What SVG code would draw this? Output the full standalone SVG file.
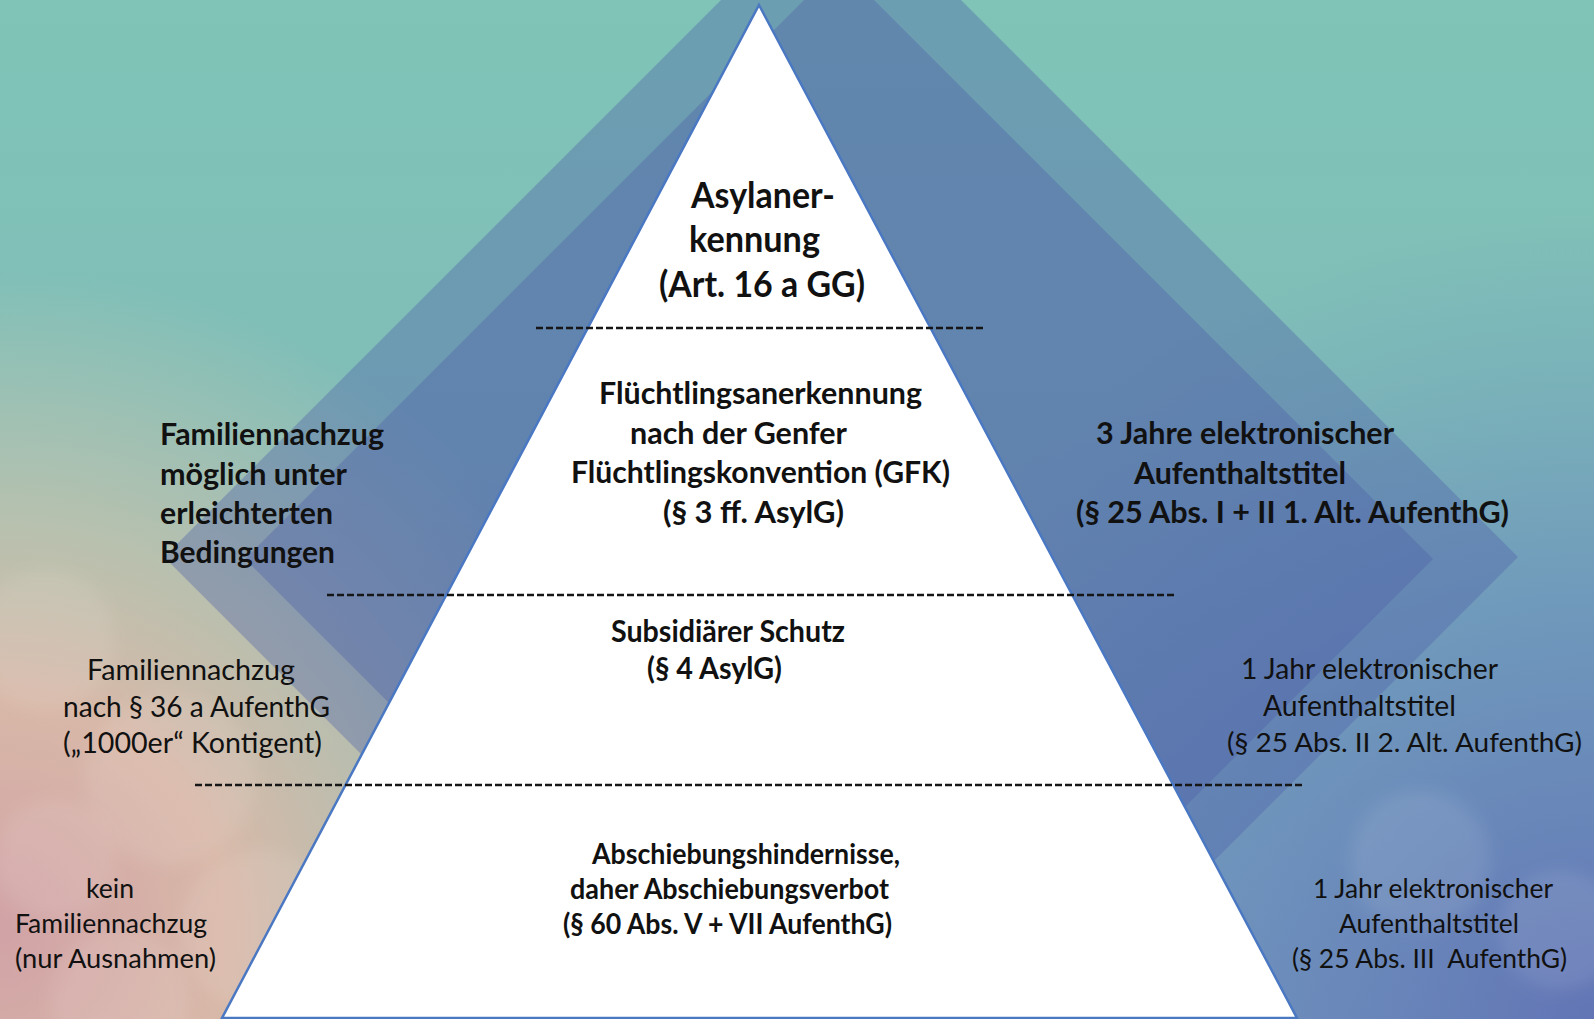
<svg xmlns="http://www.w3.org/2000/svg" width="1594" height="1019" viewBox="0 0 1594 1019">
  <defs>
    <linearGradient id="bgBase" x1="0" y1="0" x2="0" y2="1">
      <stop offset="0" stop-color="#7fc4b7"/>
      <stop offset="0.4" stop-color="#80bdb8"/>
      <stop offset="1" stop-color="#7da0bd"/>
    </linearGradient>
    <radialGradient id="warm" gradientUnits="userSpaceOnUse" cx="0" cy="930" r="660">
      <stop offset="0" stop-color="#d1a2a6" stop-opacity="1"/>
      <stop offset="0.35" stop-color="#d8b8a8" stop-opacity="1"/>
      <stop offset="0.62" stop-color="#cfc5aa" stop-opacity="0.7"/>
      <stop offset="1" stop-color="#cfc9ad" stop-opacity="0"/>
    </radialGradient>
    <radialGradient id="cool" gradientUnits="userSpaceOnUse" cx="1594" cy="1019" r="800">
      <stop offset="0" stop-color="#6274b5" stop-opacity="1"/>
      <stop offset="0.5" stop-color="#6689bc" stop-opacity="0.65"/>
      <stop offset="1" stop-color="#6a95bd" stop-opacity="0"/>
    </radialGradient>
    <filter id="blur" x="-50%" y="-50%" width="200%" height="200%">
      <feGaussianBlur stdDeviation="8"/>
    </filter>
    <style>
      .band { fill: #5060a8; fill-opacity: 0.38; }
      .bokeh { fill: #ffffff; fill-opacity: 0.09; filter: url(#blur); }
      .pyr { fill: #ffffff; stroke: #4a78c2; stroke-width: 2.5; stroke-linejoin: miter; }
      .dash { stroke: #161616; stroke-width: 2.4; stroke-dasharray: 7 3; fill: none; }
      text { font-family: Lato, "Open Sans", "Liberation Sans", sans-serif; fill: #111111; }
      .b { font-weight: 700; }
      .r { font-weight: 400; }
      .t1 { font-size: 35.5px; }
      .t2 { font-size: 31px; }
      .t3 { font-size: 29.5px; }
      .t3s { font-size: 26.5px; }
      .t4 { font-size: 28px; }
      .t5 { font-size: 27.5px; }
    </style>
  </defs>

  <g id="background">
    <rect x="0" y="0" width="1594" height="1019" fill="url(#bgBase)"/>
    <rect x="0" y="0" width="1594" height="1019" fill="url(#warm)"/>
    <rect x="0" y="0" width="1594" height="1019" fill="url(#cool)"/>
    <circle class="bokeh" cx="45" cy="640" r="70"/>
    <circle class="bokeh" cx="170" cy="780" r="85"/>
    <circle class="bokeh" cx="55" cy="860" r="60"/>
    <circle class="bokeh" cx="260" cy="930" r="80"/>
    <circle class="bokeh" cx="120" cy="1000" r="70"/>
    <circle class="bokeh" cx="1420" cy="860" r="70"/>
    <circle class="bokeh" cx="1560" cy="930" r="60"/>
  </g>

  <g id="bands">
    <polygon id="band-outer" class="band" points="841,-120 1518,557 841,1234 164,557"/>
    <polygon id="band-inner" class="band" points="839,-35 1433,559 839,1153 245,559"/>
  </g>

  <g id="pyramid">
    <polygon class="pyr" points="759,5 1297,1018 222,1018"/>
  </g>

  <g id="connectors">
    <line class="dash" x1="536" y1="328" x2="984" y2="328"/>
    <line class="dash" x1="327" y1="595" x2="1174" y2="595"/>
    <line class="dash" x1="195" y1="785" x2="1303" y2="785"/>
  </g>

  <g id="node-asyl">
    <text class="b t1" x="691" y="208" textLength="144" lengthAdjust="spacingAndGlyphs">Asylaner-</text>
    <text class="b t1" x="689" y="252" textLength="131" lengthAdjust="spacingAndGlyphs">kennung</text>
    <text class="b t1" x="659" y="297" textLength="206" lengthAdjust="spacingAndGlyphs">(Art. 16 a GG)</text>
  </g>

  <g id="node-gfk">
    <text class="b t2" x="599" y="404" textLength="323" lengthAdjust="spacingAndGlyphs">Flüchtlingsanerkennung</text>
    <text class="b t2" x="630" y="444" textLength="217" lengthAdjust="spacingAndGlyphs">nach der Genfer</text>
    <text class="b t2" x="571" y="483" textLength="379" lengthAdjust="spacingAndGlyphs">Flüchtlingskonvention (GFK)</text>
    <text class="b t2" x="663" y="523" textLength="181" lengthAdjust="spacingAndGlyphs">(§ 3 ff. AsylG)</text>
  </g>

  <g id="node-gfk-left">
    <text class="b t2" x="160" y="445" textLength="224" lengthAdjust="spacingAndGlyphs">Familiennachzug</text>
    <text class="b t2" x="160" y="485" textLength="187" lengthAdjust="spacingAndGlyphs">möglich unter</text>
    <text class="b t2" x="160" y="524" textLength="173" lengthAdjust="spacingAndGlyphs">erleichterten</text>
    <text class="b t2" x="160" y="563" textLength="175" lengthAdjust="spacingAndGlyphs">Bedingungen</text>
  </g>

  <g id="node-gfk-right">
    <text class="b t2" x="1096" y="444" textLength="298" lengthAdjust="spacingAndGlyphs">3 Jahre elektronischer</text>
    <text class="b t2" x="1134" y="484" textLength="212" lengthAdjust="spacingAndGlyphs">Aufenthaltstitel</text>
    <text class="b t2" x="1076" y="523" textLength="433" lengthAdjust="spacingAndGlyphs">(§ 25 Abs. I + II 1. Alt. AufenthG)</text>
  </g>

  <g id="node-subsidiaer">
    <text class="b t3" x="611" y="642" textLength="234" lengthAdjust="spacingAndGlyphs">Subsidiärer Schutz</text>
    <text class="b t3" x="647" y="679" textLength="135" lengthAdjust="spacingAndGlyphs">(§ 4 AsylG)</text>
  </g>

  <g id="node-subsidiaer-left">
    <text class="r t3" x="87" y="680" textLength="208" lengthAdjust="spacingAndGlyphs">Familiennachzug</text>
    <text class="r t3" x="63" y="717" textLength="267" lengthAdjust="spacingAndGlyphs">nach § 36 a AufenthG</text>
    <text class="r t3" x="63" y="753" textLength="259" lengthAdjust="spacingAndGlyphs">(„1000er“ Kontigent)</text>
  </g>

  <g id="node-subsidiaer-right">
    <text class="r t3" x="1241" y="679" textLength="257" lengthAdjust="spacingAndGlyphs">1 Jahr elektronischer</text>
    <text class="r t3" x="1263" y="716" textLength="193" lengthAdjust="spacingAndGlyphs">Aufenthaltstitel</text>
    <text class="r t3s" x="1227" y="752" textLength="355" lengthAdjust="spacingAndGlyphs">(§ 25 Abs. II 2. Alt. AufenthG)</text>
  </g>

  <g id="node-abschiebung">
    <text class="b t4" x="592" y="864" textLength="308" lengthAdjust="spacingAndGlyphs">Abschiebungshindernisse,</text>
    <text class="b t4" x="570" y="899" textLength="319" lengthAdjust="spacingAndGlyphs">daher Abschiebungsverbot</text>
    <text class="b t4" x="563" y="934" textLength="329" lengthAdjust="spacingAndGlyphs">(§ 60 Abs. V + VII AufenthG)</text>
  </g>

  <g id="node-abschiebung-left">
    <text class="r t5" x="86" y="898" textLength="48" lengthAdjust="spacingAndGlyphs">kein</text>
    <text class="r t5" x="15" y="933" textLength="192" lengthAdjust="spacingAndGlyphs">Familiennachzug</text>
    <text class="r t5" x="15" y="968" textLength="201" lengthAdjust="spacingAndGlyphs">(nur Ausnahmen)</text>
  </g>

  <g id="node-abschiebung-right">
    <text class="r t5" x="1313" y="898" textLength="240" lengthAdjust="spacingAndGlyphs">1 Jahr elektronischer</text>
    <text class="r t5" x="1339" y="933" textLength="180" lengthAdjust="spacingAndGlyphs">Aufenthaltstitel</text>
    <text class="r t5" x="1292" y="968" textLength="275" lengthAdjust="spacingAndGlyphs" style="white-space:pre">(§ 25 Abs. III  AufenthG)</text>
  </g>
</svg>
